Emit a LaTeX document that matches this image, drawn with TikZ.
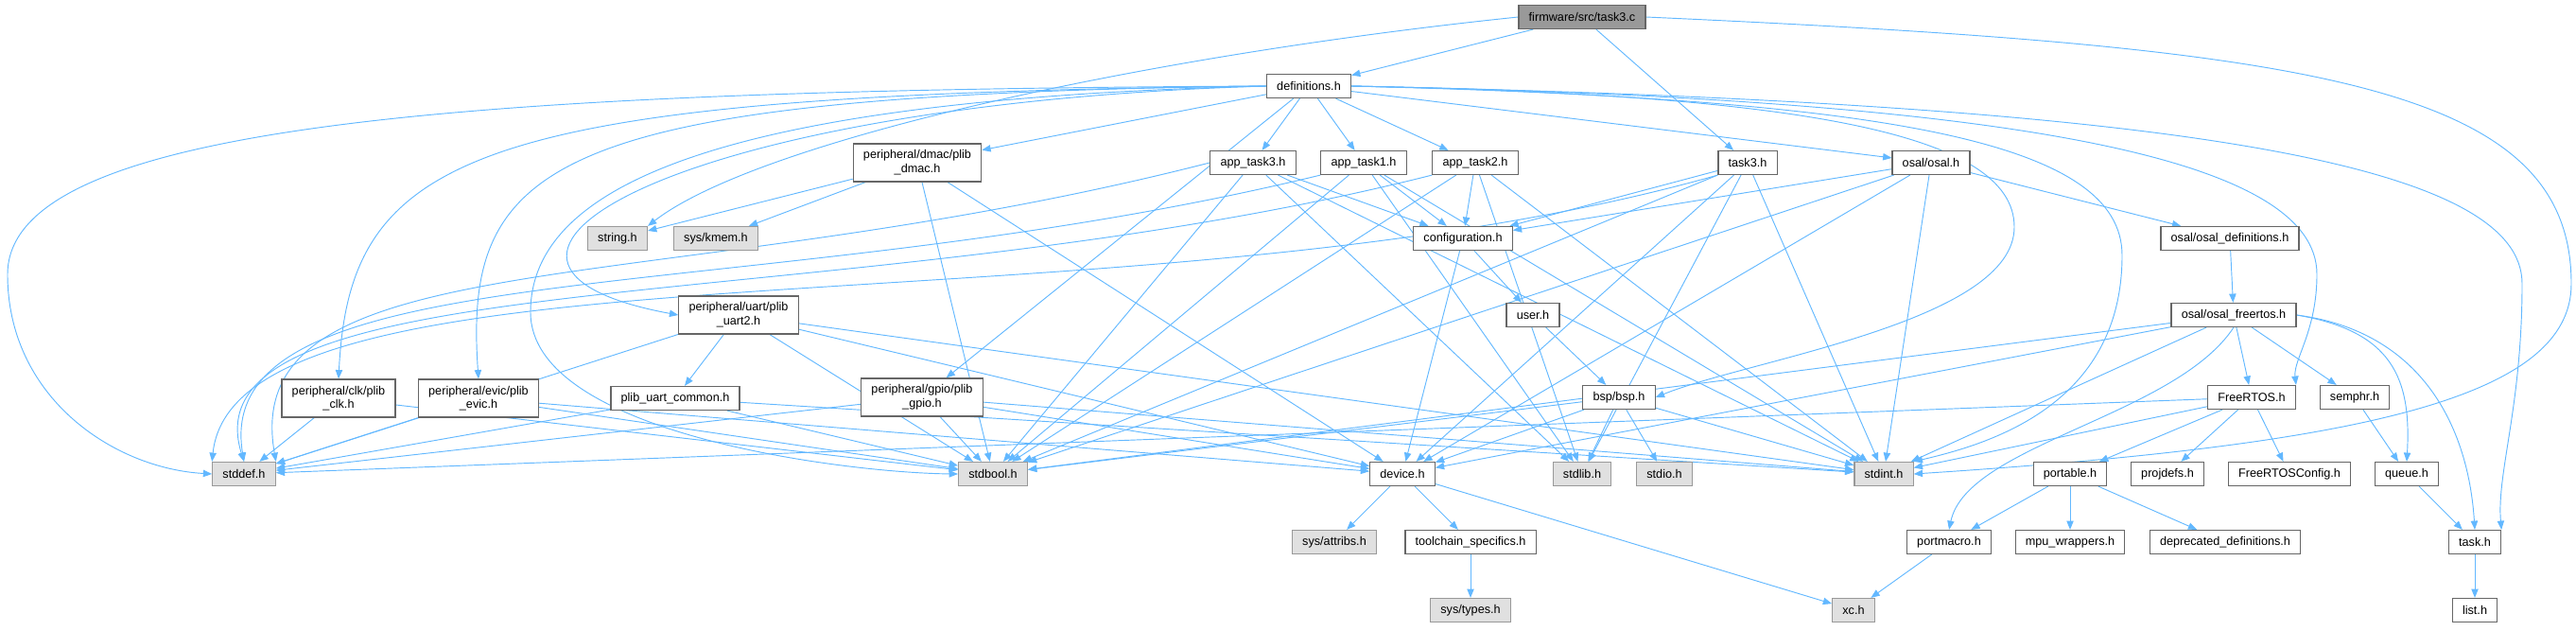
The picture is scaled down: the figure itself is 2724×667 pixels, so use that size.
\documentclass[tikz,border=0pt]{standalone}
\usepackage{fontspec}
\setmainfont{Liberation Sans}
\usepackage{xcolor}
\usetikzlibrary{arrows.meta}
\definecolor{edgeblue}{HTML}{63B8FF}
\definecolor{boxline}{HTML}{666666}
\definecolor{sysline}{HTML}{999999}
\definecolor{sysfill}{HTML}{E0E0E0}
\definecolor{rootfill}{HTML}{999999}
\pgfdeclarelayer{edges}
\pgfsetlayers{edges,main}
\newcommand{\hfile}[4]{\node[hbox] (#1) at (#2,#3) {#4};}
\newcommand{\sfile}[4]{\node[sbox] (#1) at (#2,#3) {#4};}

\begin{document}
\begin{tikzpicture}[x=0.75pt,y=-0.75pt,font=\fontsize{9.5pt}{11pt}\selectfont,
  hbox/.style={draw=boxline,fill=white,line width=0.9pt,minimum height=18.75pt,inner xsep=8pt,align=center},
  sbox/.style={hbox,draw=sysline,fill=sysfill},
  twoline/.style={hbox,minimum height=30pt},
  dep/.style={draw=edgeblue,line width=0.7pt,-{Triangle[length=7pt,width=5.5pt]}}]
\useasboundingbox (0,0) rectangle (2724,667);

% files
\node[hbox,fill=rootfill] (task3c) at (1673,18) {firmware/src/task3.c};
\hfile{defs}{1384}{91}{definitions.h}
\node[twoline] (dmac) at (970,172) {peripheral/dmac/plib\\\_dmac.h};
\hfile{app3}{1325}{172}{app\_task3.h}
\hfile{app1}{1442}{172}{app\_task1.h}
\hfile{app2}{1560}{172}{app\_task2.h}
\hfile{task3h}{1848}{172}{task3.h}
\hfile{osal}{2042}{172}{osal/osal.h}
\sfile{stringh}{653}{252}{string.h}
\sfile{kmem}{757}{252}{sys/kmem.h}
\hfile{config}{1547}{252}{configuration.h}
\hfile{osaldef}{2358}{252}{osal/osal\_definitions.h}
\node[twoline] (uart2) at (781,333) {peripheral/uart/plib\\\_uart2.h};
\hfile{user}{1621}{333}{user.h}
\hfile{osalfr}{2362}{333}{osal/osal\_freertos.h}
\node[twoline] (clk) at (358,421) {peripheral/clk/plib\\\_clk.h};
\node[twoline] (evic) at (506,421) {peripheral/evic/plib\\\_evic.h};
\hfile{uartcom}{714}{421}{plib\_uart\_common.h}
\node[twoline] (gpio) at (975,420) {peripheral/gpio/plib\\\_gpio.h};
\hfile{bsp}{1712}{420}{bsp/bsp.h}
\hfile{freertos}{2381}{420}{FreeRTOS.h}
\hfile{semphr}{2490}{420}{semphr.h}
\sfile{stddef}{258}{501}{stddef.h}
\sfile{stdbool}{1050}{501}{stdbool.h}
\hfile{device}{1483}{501}{device.h}
\sfile{stdlib}{1673}{501}{stdlib.h}
\sfile{stdio}{1760}{501}{stdio.h}
\sfile{stdint}{1992}{501}{stdint.h}
\hfile{portable}{2189}{501}{portable.h}
\hfile{projdefs}{2292}{501}{projdefs.h}
\hfile{frconfig}{2421}{501}{FreeRTOSConfig.h}
\hfile{queue}{2545}{501}{queue.h}
\sfile{attribs}{1411}{573}{sys/attribs.h}
\hfile{toolchain}{1555}{573}{toolchain\_specifics.h}
\hfile{portmacro}{2061}{573}{portmacro.h}
\hfile{mpu}{2189}{573}{mpu\_wrappers.h}
\hfile{deprec}{2353}{573}{deprecated\_definitions.h}
\hfile{taskh}{2617}{573}{task.h}
\sfile{systypes}{1555}{645}{sys/types.h}
\sfile{xch}{1960}{645}{xc.h}
\hfile{listh}{2617}{645}{list.h}

\begin{pgfonlayer}{edges}
% straight includes
\foreach \a/\b in {task3c/defs,task3c/task3h,
  defs/dmac,defs/app3,defs/app1,defs/app2,defs/osal,defs/gpio,
  dmac/stringh,dmac/kmem,dmac/stdbool,dmac/device,
  app3/stdbool,app3/stdlib,app3/config,app3/stdint,
  app1/stdbool,app1/stdlib,app1/config,app1/stdint,
  app2/stdbool,app2/config,app2/stdint,app2/stdlib,
  task3h/config,task3h/stdbool,task3h/stdlib,task3h/stdint,task3h/device,
  osal/config,osal/osaldef,osal/stdint,osal/stdbool,osal/device,
  osaldef/osalfr,osalfr/freertos,osalfr/semphr,osalfr/stdint,osalfr/stdbool,osalfr/device,
  config/user,config/device,user/bsp,
  uart2/uartcom,uart2/stddef,uart2/stdbool,uart2/device,uart2/stdint,
  uartcom/stddef,uartcom/stdbool,uartcom/stdint,
  clk/stddef,clk/stdbool,evic/stddef,evic/stdbool,evic/device,
  gpio/stddef,gpio/stdbool,gpio/device,gpio/stdint,
  bsp/stdbool,bsp/device,bsp/stdlib,bsp/stdio,bsp/stdint,
  freertos/stddef,freertos/stdint,freertos/portable,freertos/projdefs,freertos/frconfig,
  semphr/queue,queue/taskh,taskh/listh,
  portable/portmacro,portable/mpu,portable/deprec,portmacro/xch,
  device/attribs,device/toolchain,device/xch,toolchain/systypes}
  { \draw[dep] (\a) -- (\b); }

% curved includes
\draw[dep] (task3c.west) .. controls (1200,60) and (800,150) .. (stringh.north east);
\draw[dep] (task3c.east) .. controls (2450,50) and (2719,90) .. (2719,300) .. controls (2719,420) and (2500,470) .. (stdint.east);
\draw[dep] (defs.west) .. controls (500,95) and (8,130) .. (8,290) .. controls (8,420) and (120,495) .. (stddef.west);
\draw[dep] (defs.west) .. controls (750,105) and (561,200) .. (561,330) .. controls (561,460) and (900,500) .. (stdbool.west);
\draw[dep] (defs.west) .. controls (700,110) and (430,280) .. (uart2.west);
\draw[dep] (defs.west) .. controls (500,100) and (370,160) .. (clk.north);
\draw[dep] (defs.west) .. controls (580,100) and (490,170) .. (evic.north);
\draw[dep] (defs.east) .. controls (1900,100) and (2130,140) .. (2130,240) .. controls (2130,340) and (1850,380) .. (bsp.east);
\draw[dep] (defs.east) .. controls (2000,105) and (2244,150) .. (2244,270) .. controls (2244,430) and (2100,470) .. (stdint.north east);
\draw[dep] (defs.east) .. controls (2150,105) and (2450,170) .. (2450,290) .. controls (2450,350) and (2425,380) .. (freertos.north east);
\draw[dep] (defs.east) .. controls (2350,110) and (2667,180) .. (2667,300) .. controls (2667,430) and (2640,500) .. (taskh.north east);
\draw[dep] (app3.west) .. controls (700,320) and (250,250) .. (stddef.north east);
\draw[dep] (app1.south west) .. controls (800,330) and (220,260) .. (stddef.north);
\draw[dep] (app2.south west) .. controls (900,340) and (190,270) .. (stddef.north);
\draw[dep] (task3h.south west) .. controls (1200,360) and (250,240) .. (stddef.north west);
\draw[dep] (osalfr.east) .. controls (2530,350) and (2550,400) .. (queue.north);
\draw[dep] (osalfr.east) .. controls (2560,350) and (2610,450) .. (taskh.north);
\draw[dep] (osalfr.south) .. controls (2300,440) and (2080,470) .. (portmacro.north);
\end{pgfonlayer}
\end{tikzpicture}
\end{document}
